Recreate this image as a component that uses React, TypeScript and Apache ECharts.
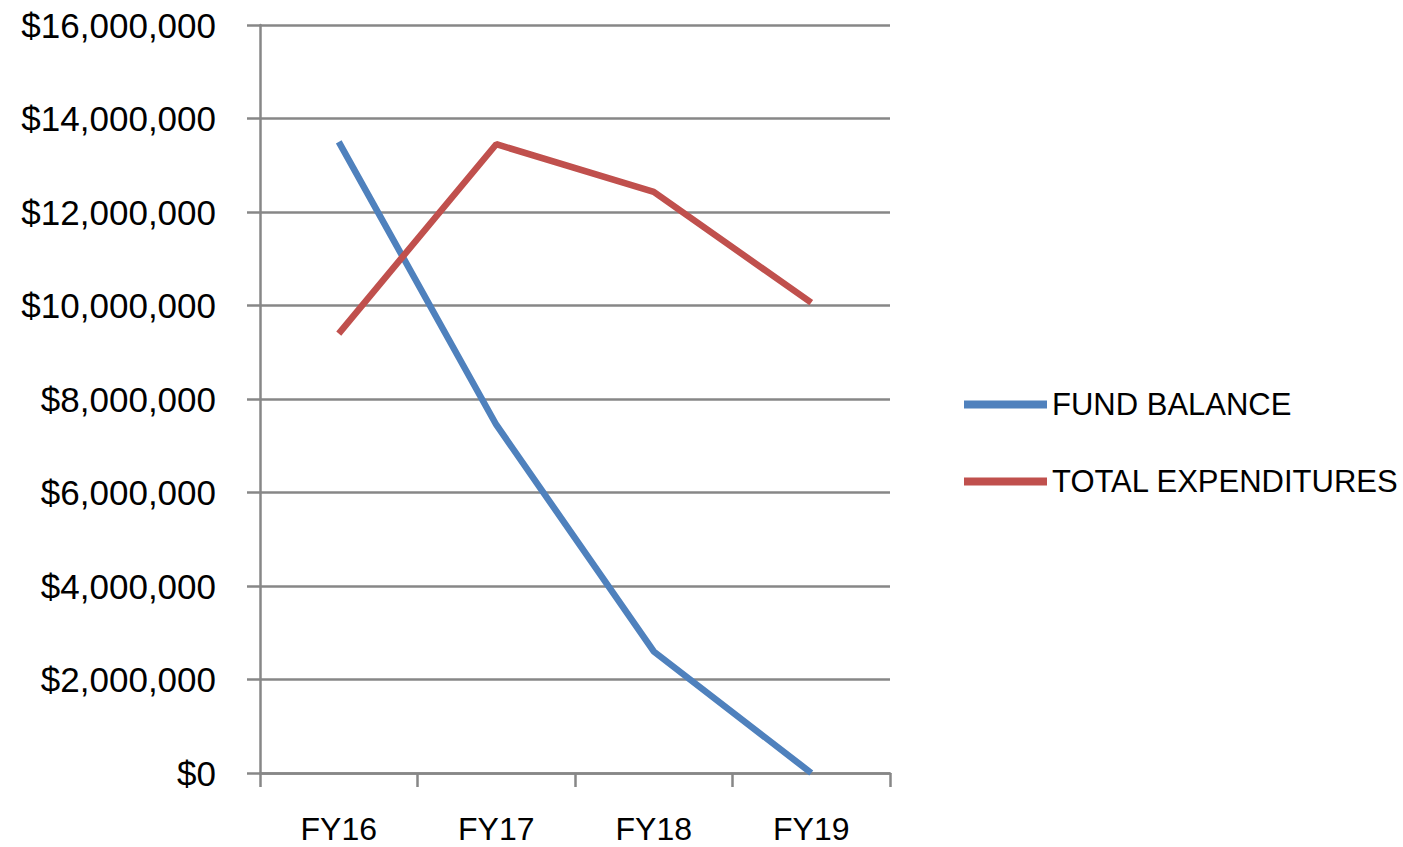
import React, { useEffect, useRef } from "react";
import * as echarts from "echarts";

const categories = ["FY16", "FY17", "FY18", "FY19"];
const fundBalance = [13500000, 7450000, 2600000, 0];
const totalExpenditures = [9400000, 13450000, 12430000, 10060000];
const seriesNames = ["FUND BALANCE", "TOTAL EXPENDITURES"];

const fmt = (v: number) => "$" + v.toLocaleString("en-US");

export default function App() {
  const ref = useRef<HTMLDivElement>(null);
  useEffect(() => {
    if (!ref.current) return;
    const chart = echarts.init(ref.current, undefined, { renderer: "svg" });
    const font = "'Liberation Sans', Arial, sans-serif";
    const gray = "#878787";
    chart.setOption({
      animation: false,
      backgroundColor: "#ffffff",
      textStyle: { fontFamily: font },
      grid: { left: 260, right: 513, top: 25, bottom: 74, containLabel: false },
      legend: {
        orient: "vertical",
        left: 959,
        top: 384,
        itemWidth: 83,
        itemHeight: 8,
        itemGap: 46,
        icon: "rect",
        textStyle: { fontSize: 31, color: "#000", fontFamily: font },
        data: seriesNames,
      },
      xAxis: {
        type: "category",
        data: categories,
        boundaryGap: true,
        axisLine: { show: true, lineStyle: { color: gray, width: 2.5 } },
        axisTick: { show: true, length: 14, lineStyle: { color: gray, width: 2.5 } },
        axisLabel: { fontSize: 32, color: "#000", margin: 40, fontFamily: font },
        splitLine: { show: false },
      },
      yAxis: {
        type: "value",
        min: 0,
        max: 16000000,
        interval: 2000000,
        axisLine: { show: true, lineStyle: { color: gray, width: 2.5 } },
        axisTick: { show: true, length: 13, lineStyle: { color: gray, width: 2.5 } },
        axisLabel: { fontSize: 35, color: "#000", margin: 44, formatter: fmt, fontFamily: font },
        splitLine: { show: true, lineStyle: { color: gray, width: 2.5 } },
      },
      series: [
        {
          name: seriesNames[0],
          type: "line",
          data: fundBalance,
          symbol: "none",
          lineStyle: { color: "#4F81BD", width: 6.5 },
          itemStyle: { color: "#4F81BD" },
        },
        {
          name: seriesNames[1],
          type: "line",
          data: totalExpenditures,
          symbol: "none",
          lineStyle: { color: "#C0504D", width: 6.5 },
          itemStyle: { color: "#C0504D" },
        },
      ],
    });
    return () => chart.dispose();
  }, []);
  return (
    <div
      ref={ref}
      style={{ position: "fixed", left: 0, top: 0, width: 1403, height: 847 }}
    />
  );
}
